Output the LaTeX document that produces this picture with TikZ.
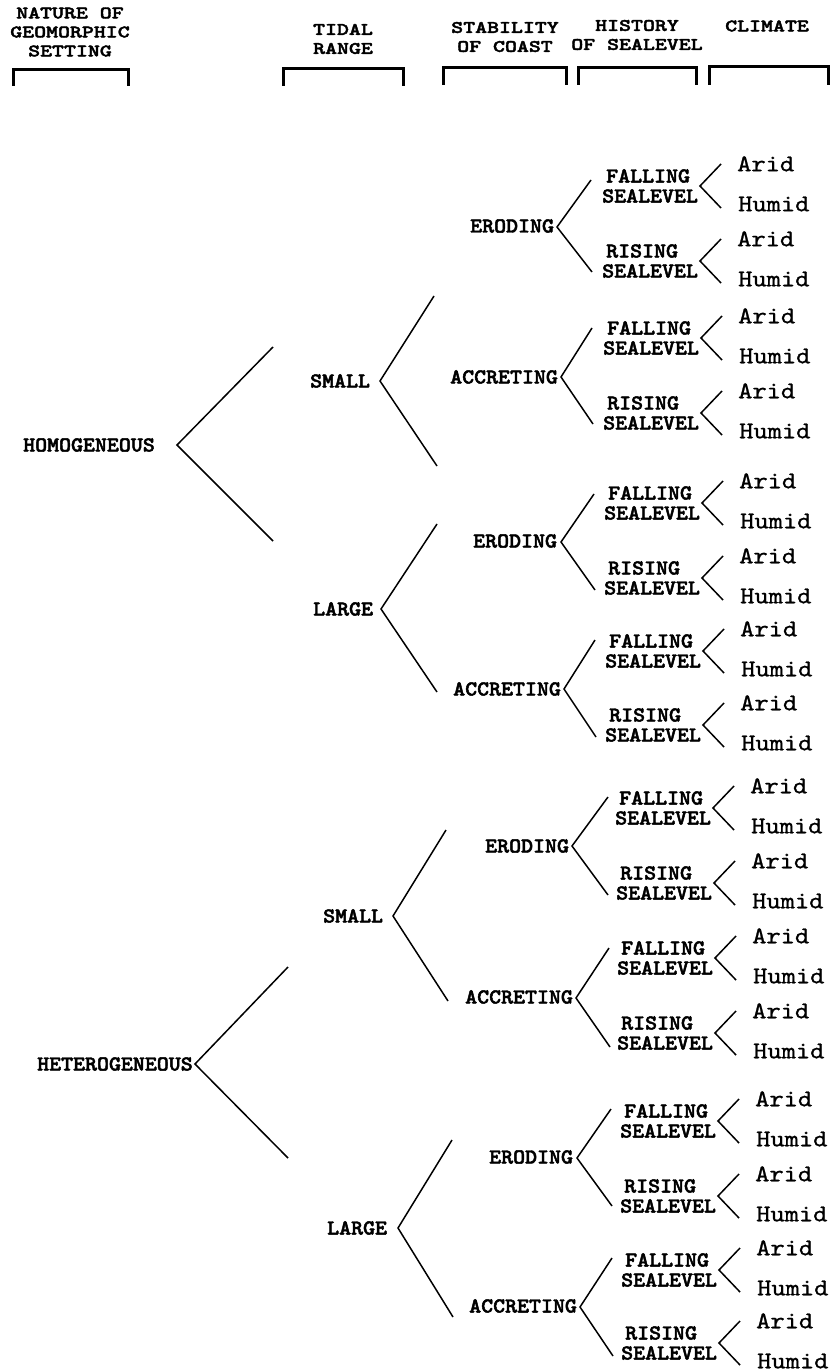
\documentclass[tikz,border=0pt]{standalone}
\usepackage{fontspec}
\newfontfamily\labf{lmmonolt10-bold.otf}[FakeBold=2.2,FakeStretch=1.07]
\newfontfamily\hdf{lmmonolt10-bold.otf}[FakeBold=2.4,FakeStretch=1.3]
\newfontfamily\leaff{lmmono10-regular.otf}[FakeBold=1.0,FakeStretch=1.13]
\begin{document}
\newcommand\mkfork[7]{%
  \coordinate (#1v) at (#2,#3);
  \coordinate (#1u) at (#4,#5);
  \coordinate (#1d) at (#6,#7);
  \draw[ln] (#1u) -- (#1v) -- (#1d);}
\newcommand\mksea[4]{%
  \node[sea] (#1) at (#3-98,#4) {#2};
  \coordinate (#1v) at (#3,#4);
  \coordinate (#1u) at (#3+21,#4-22);
  \coordinate (#1d) at (#3+21,#4+22);
  \node[leaf] (#1a) at (#3+37,#4-22) {Arid};
  \node[leaf] (#1h) at (#3+38,#4+18) {Humid};
  \draw[ln] (#1u) -- (#1v) -- (#1d);}
\begin{tikzpicture}[x=1pt,y=-1pt,
  ln/.style={line width=1.5pt},
  brk/.style={line width=3pt},
  lab/.style={font=\labf\fontsize{21.3}{20}\selectfont, inner sep=0pt, anchor=west, text height=13pt, text depth=0pt},
  sea/.style={font=\labf\fontsize{21.3}{20}\selectfont, inner sep=0pt, anchor=west, align=left},
  leaf/.style={font=\leaff\fontsize{24}{24}\selectfont, inner sep=0pt, anchor=west, text height=14.5pt, text depth=0pt},
  hd/.style={font=\hdf\fontsize{17.5}{19}\selectfont, inner sep=0pt, align=center}]
\useasboundingbox (0,0) rectangle (831,1372);
% headers
\node[hd] (h1) at (70,32) {NATURE OF\\GEOMORPHIC\\SETTING};
\node[hd] (h2) at (343,39) {TIDAL\\RANGE};
\node[hd] (h3) at (505,37) {STABILITY\\OF COAST};
\node[hd] (h4) at (637,35) {HISTORY\\OF SEALEVEL};
\node[hd] (h5) at (767,26) {CLIMATE};
\draw[brk] (13,86) -- (13,70) -- (128,70) -- (128,86);
\draw[brk] (283,86) -- (283,69) -- (403,69) -- (403,86);
\draw[brk] (443,85) -- (443,68) -- (566,68) -- (566,85);
\draw[brk] (578,85) -- (578,68) -- (696,68) -- (696,85);
\draw[brk] (709,85) -- (709,67) -- (828,67) -- (828,85);
% level 1
\node[lab] (hom) at (23,445) {HOMOGENEOUS};
\mkfork{hom}{177}{445}{273}{347}{273}{541}
\node[lab] (het) at (37,1064) {HETEROGENEOUS};
\mkfork{het}{195}{1064}{288}{967}{288}{1158}
% level 2
\node[lab] (hs) at (310,381) {SMALL};
\mkfork{hs}{380}{381}{434}{296}{437}{466}
\node[lab] (hl) at (313,609) {LARGE};
\mkfork{hl}{381}{609}{437}{524}{437}{692}
\node[lab] (es) at (323,916) {SMALL};
\mkfork{es}{393}{916}{446}{830}{448}{1001}
\node[lab] (el) at (327,1228) {LARGE};
\mkfork{el}{398}{1228}{452}{1140}{453}{1317}
% level 3
\node[lab] (hse) at (470,226) {ERODING};
\mkfork{hse}{557}{227}{591}{180}{592}{272}
\node[lab] (hsa) at (450,377) {ACCRETING};
\mkfork{hsa}{561}{377}{592}{328}{593}{424}
\node[lab] (hle) at (473,541) {ERODING};
\mkfork{hle}{561}{542}{594}{494}{595}{590}
\node[lab] (hla) at (453,689) {ACCRETING};
\mkfork{hla}{564}{689}{595}{640}{596}{737}
\node[lab] (ese) at (485,846) {ERODING};
\mkfork{ese}{572}{846}{608}{797}{608}{895}
\node[lab] (esa) at (465,997) {ACCRETING};
\mkfork{esa}{576}{998}{609}{948}{610}{1047}
\node[lab] (ele) at (489,1157) {ERODING};
\mkfork{ele}{577}{1158}{611}{1109}{612}{1206}
\node[lab] (ela) at (469,1306) {ACCRETING};
\mkfork{ela}{580}{1307}{612}{1258}{613}{1356}
% level 4 and leaves
\mksea{fa}{\hspace*{4pt}FALLING\\SEALEVEL}{700}{186}
\mksea{ra}{\hspace*{4pt}RISING\\SEALEVEL}{700}{261}
\mksea{fb}{\hspace*{4pt}FALLING\\SEALEVEL}{701}{338}
\mksea{rb}{\hspace*{4pt}RISING\\SEALEVEL}{701}{413}
\mksea{fc}{\hspace*{4pt}FALLING\\SEALEVEL}{702}{503}
\mksea{rc}{\hspace*{4pt}RISING\\SEALEVEL}{702}{578}
\mksea{fd}{\hspace*{4pt}FALLING\\SEALEVEL}{703}{651}
\mksea{rd}{\hspace*{4pt}RISING\\SEALEVEL}{703}{725}
\mksea{fe}{\hspace*{4pt}FALLING\\SEALEVEL}{713}{808}
\mksea{re}{\hspace*{4pt}RISING\\SEALEVEL}{714}{883}
\mksea{ff}{\hspace*{4pt}FALLING\\SEALEVEL}{715}{958}
\mksea{rf}{\hspace*{4pt}RISING\\SEALEVEL}{715}{1033}
\mksea{fg}{\hspace*{4pt}FALLING\\SEALEVEL}{718}{1121}
\mksea{rg}{\hspace*{4pt}RISING\\SEALEVEL}{718}{1196}
\mksea{fh}{\hspace*{4pt}FALLING\\SEALEVEL}{719}{1270}
\mksea{rh}{\hspace*{4pt}RISING\\SEALEVEL}{719}{1343}
\end{tikzpicture}
\end{document}
